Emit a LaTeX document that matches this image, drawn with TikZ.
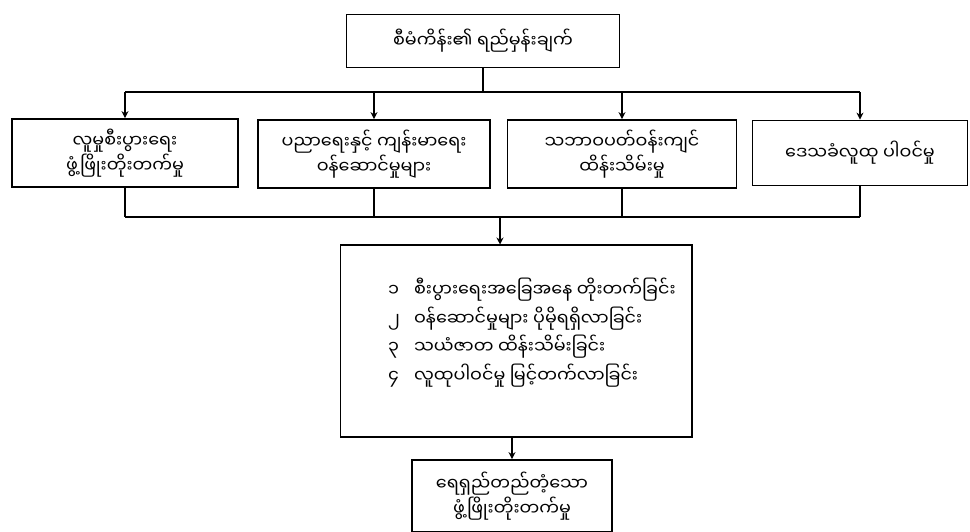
\documentclass[tikz,border=0pt]{standalone}
\usepackage{fontspec}
\newfontfamily\mmfont[Script=Myanmar]{Noto Sans Myanmar UI}
\usetikzlibrary{positioning,arrows.meta}

\tikzset{
  box/.style={draw, line width=1pt, inner sep=2pt, align=center},
  link/.style={line width=0.9pt},
  arrow/.style={link, -{Stealth[length=4pt,width=4pt]}}
}

\begin{document}
\begin{tikzpicture}[x=0.02cm, y=-0.02cm, every node/.style={font=\mmfont\fontsize{10}{14}\selectfont}]
    \fill[white] (0,0) rectangle (970,531);
    \useasboundingbox (0,0) rectangle (970,531);
    % Title
    \node[box, minimum width=5.46cm, minimum height=1.06cm] (title) at (483,41) {စီမံကိန်း၏ ရည်မှန်းချက်};
    % Four areas
    \node[box, minimum width=4.52cm, minimum height=1.36cm] (areaA) at (125,153) {လူမှုစီးပွားရေး\\ဖွံ့ဖြိုးတိုးတက်မှု};
    \node[box, minimum width=4.64cm, minimum height=1.36cm] (areaB) at (374,154) {ပညာရေးနှင့် ကျန်းမာရေး\\ဝန်ဆောင်မှုများ};
    \node[box, minimum width=4.58cm, minimum height=1.36cm] (areaC) at (622,154) {သဘာဝပတ်ဝန်းကျင်\\ထိန်းသိမ်းမှု};
    \node[box, minimum width=4.30cm, minimum height=1.30cm] (areaD) at (860,153) {ဒေသခံလူထု ပါဝင်မှု};
    % Outcome details
    \node[draw, line width=0.6pt, minimum width=7.04cm, minimum height=3.84cm] (detail) at (516,341) {};
    \node[align=left, anchor=north west] (items) at (382,272) {%
      \begin{tabular}{@{}l@{\hspace{8pt}}l@{}}
        ၁ & စီးပွားရေးအခြေအနေ တိုးတက်ခြင်း\\[1.5pt]
        ၂ & ဝန်ဆောင်မှုများ ပိုမိုရရှိလာခြင်း\\[1.5pt]
        ၃ & သယံဇာတ ထိန်းသိမ်းခြင်း\\[1.5pt]
        ၄ & လူထုပါဝင်မှု မြင့်တက်လာခြင်း
      \end{tabular}};
    % Result
    \node[box, minimum width=4.0cm, minimum height=1.44cm] (result) at (512,496) {ရေရှည်တည်တံ့သော\\ဖွံ့ဖြိုးတိုးတက်မှု};
    % Top bus
    \coordinate (busT) at (483,92);
    \draw[link] (title.south) -- (busT);
    \draw[link] (areaA.north |- busT) -- (areaD.north |- busT);
    \draw[arrow] (areaA.north |- busT) -- (areaA.north);
    \draw[arrow] (areaB.north |- busT) -- (areaB.north);
    \draw[arrow] (areaC.north |- busT) -- (areaC.north);
    \draw[arrow] (areaD.north |- busT) -- (areaD.north);
    % Bottom bus
    \coordinate (busB) at (500,217);
    \draw[link] (areaA.south) -- (areaA.south |- busB);
    \draw[link] (areaB.south) -- (areaB.south |- busB);
    \draw[link] (areaC.south) -- (areaC.south |- busB);
    \draw[link] (areaD.south) -- (areaD.south |- busB);
    \draw[link] (areaA.south |- busB) -- (areaD.south |- busB);
    \draw[arrow] (busB) -- (busB |- detail.north);
    \draw[arrow] (detail.south -| result.north) -- (result.north);
\end{tikzpicture}
\end{document}
